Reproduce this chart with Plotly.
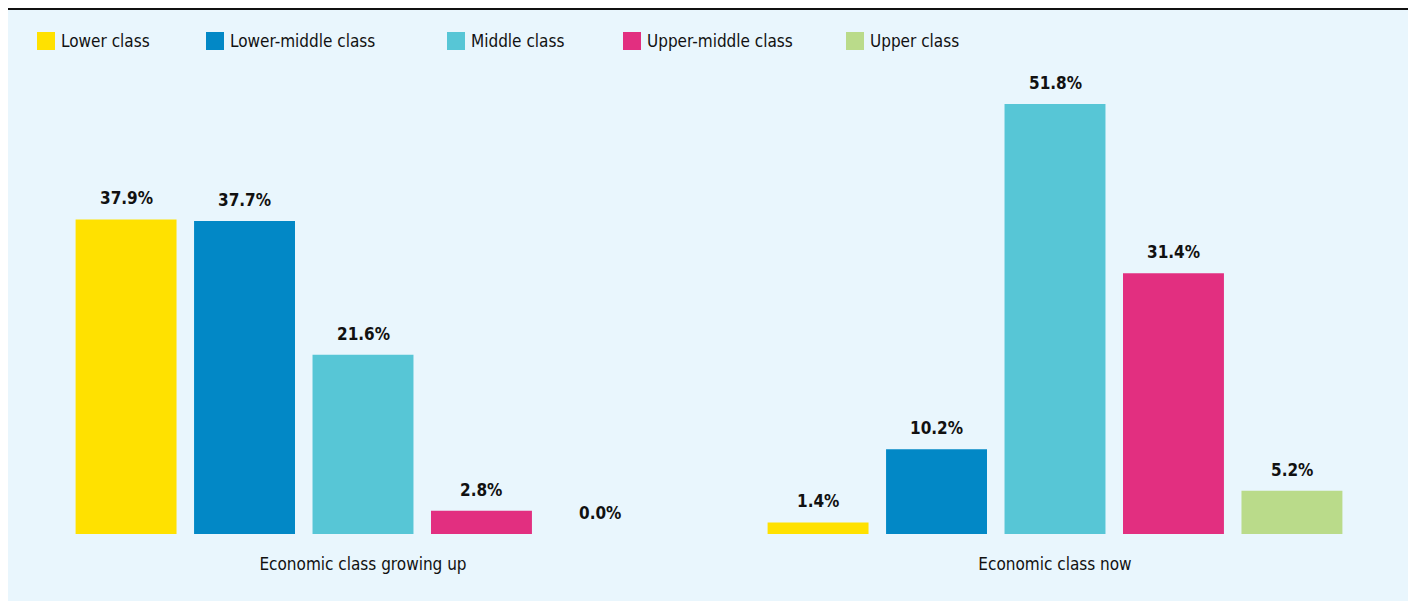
import plotly.graph_objects as go

categories = ["Economic class growing up", "Economic class now"]
series_names = ["Lower class", "Lower-middle class", "Middle class", "Upper-middle class", "Upper class"]
series_values = [
    [37.9, 1.4],
    [37.7, 10.2],
    [21.6, 51.8],
    [2.8, 31.4],
    [0.0, 5.2],
]
colors = ["#ffe100", "#0288c6", "#57c6d6", "#e22f80", "#badb8a"]

OFF = 8  # page offset of the figure inside the browser page
W, H = 1401, 593
ML, MR, MT, MB = 9, 8, 62, 67
PW, PH = W - ML - MR, H - MT - MB
FONT = "DejaVu Sans Condensed, DejaVu Sans, sans-serif"
BARGAP, GROUPGAP = 0.144, 0.148

def px(x):
    return (x - OFF - ML) / PW

def py(y):
    return (H - MB - (y - OFF)) / PH

fig = go.Figure()
for name, vals, col in zip(series_names, series_values, colors):
    fig.add_trace(go.Bar(
        name=name, x=categories, y=vals, marker_color=col, marker_line_width=0,
        showlegend=False, hoverinfo="x+y",
    ))

# value labels placed over each bar via the category axis serial positions
annotations = []
n = len(series_names)
slot = (1 - BARGAP) / n
for j, vals in enumerate(series_values):
    off = -(1 - BARGAP) / 2 + (j + 0.5) * slot
    for i, v in enumerate(vals):
        annotations.append(dict(
            xref="x", yref="y", x=i + off, y=v, text=f"<b>{v:.1f}%</b>",
            showarrow=False, xanchor="center", yanchor="bottom", yshift=9,
            font=dict(family=FONT, size=17, color="#111111"),
        ))

shapes = [
    dict(type="line", xref="paper", yref="paper", x0=px(8), x1=px(1409), y0=py(9), y1=py(9),
         line=dict(color="#111111", width=2)),
]
legend_x = [37, 206, 447, 623, 846]
for name, col, lx in zip(series_names, colors, legend_x):
    shapes.append(dict(type="rect", xref="paper", yref="paper", x0=px(lx), x1=px(lx + 18),
                       y0=py(50), y1=py(32), fillcolor=col, line_width=0))
    annotations.append(dict(xref="paper", yref="paper", x=px(lx + 22), y=py(41), text=name,
                            showarrow=False, xanchor="left", yanchor="middle",
                            font=dict(family=FONT, size=17, color="#111111")))

fig.update_layout(
    width=W, height=H, margin=dict(l=ML, r=MR, t=MT, b=MB),
    paper_bgcolor="#e9f6fd", plot_bgcolor="rgba(0,0,0,0)",
    barmode="group", bargap=BARGAP, bargroupgap=GROUPGAP,
    shapes=shapes, annotations=annotations,
    xaxis=dict(showgrid=False, zeroline=False, showline=False, ticks="",
               ticklabelstandoff=18,
               tickfont=dict(family=FONT, size=17, color="#111111")),
    yaxis=dict(range=[0, 55.9], visible=False, showgrid=False, zeroline=False),
)
fig.write_html("out.html")
